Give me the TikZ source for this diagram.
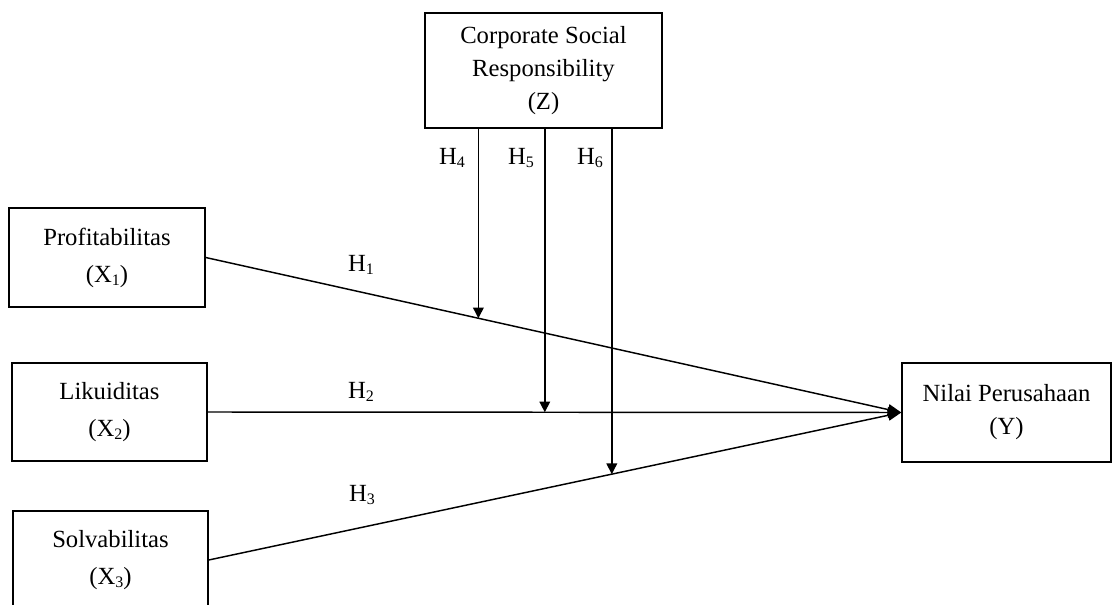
\documentclass[tikz,border=0pt]{standalone}
\usepackage{fontspec}
\setmainfont{Liberation Serif}
\usetikzlibrary{arrows.meta,calc}
\newcommand{\sbs}[1]{\raisebox{-0.3ex}{\fontsize{12}{12}\selectfont #1}}
\begin{document}
\begin{tikzpicture}[x=0.75pt,y=-0.75pt,
  box/.style={draw, line width=1.1pt, rectangle, align=center, inner sep=0pt},
  conn/.style={line width=1.1pt, -{Triangle[length=10pt,width=8pt]}},
  vconn/.style={line width=1.1pt, -{Triangle[length=8pt,width=8pt]}},
  hlab/.style={font=\fontsize{18.5}{20}\selectfont, inner sep=0pt}]
\useasboundingbox (0,0) rectangle (1113,605);
\begin{scope}
\clip (0,0) rectangle (1113,605);
\node[box, minimum width=196*0.75pt, minimum height=99*0.75pt, font=\fontsize{18.5}{27.75}\selectfont] (X1) at (107,257.5) {Profitabilitas\\(X\sbs{1})};
\node[box, minimum width=195*0.75pt, minimum height=98*0.75pt, font=\fontsize{18.5}{27.75}\selectfont] (X2) at (109.5,412) {Likuiditas\\(X\sbs{2})};
\node[box, minimum width=195*0.75pt, minimum height=98*0.75pt, font=\fontsize{18.5}{27.75}\selectfont] (X3) at (110.5,560) {Solvabilitas\\(X\sbs{3})};
\node[box, minimum width=209*0.75pt, minimum height=99*0.75pt, font=\fontsize{18.5}{24.75}\selectfont] (Y) at (1006.5,412.5) {Nilai Perusahaan\\(Y)};
\node[box, minimum width=237*0.75pt, minimum height=115*0.75pt, font=\fontsize{18.5}{24.75}\selectfont] (Z) at (543.5,70.5) {Corporate Social\\Responsibility\\(Z)};
\end{scope}
\draw[conn] (X1.east) -- coordinate[pos=0.392] (p4) (Y.west);
\draw[conn] (X2.east) -- coordinate[pos=0.486] (p5) (Y.west);
\draw[conn] (X3.east) -- coordinate[pos=0.582] (p6) (Y.west);
\draw[vconn] (Z.south -| p4) -- (p4);
\draw[vconn] (Z.south -| p5) -- (p5);
\draw[vconn] (Z.south -| p6) -- (p6);
\node[hlab] (h1) at (361,265) {H\sbs{1}};
\node[hlab] (h2) at (361,392) {H\sbs{2}};
\node[hlab] (h3) at (362,495) {H\sbs{3}};
\node[hlab] (h4) at (452,158) {H\sbs{4}};
\node[hlab] (h5) at (521,158) {H\sbs{5}};
\node[hlab] (h6) at (590,158) {H\sbs{6}};
\end{tikzpicture}
\end{document}
